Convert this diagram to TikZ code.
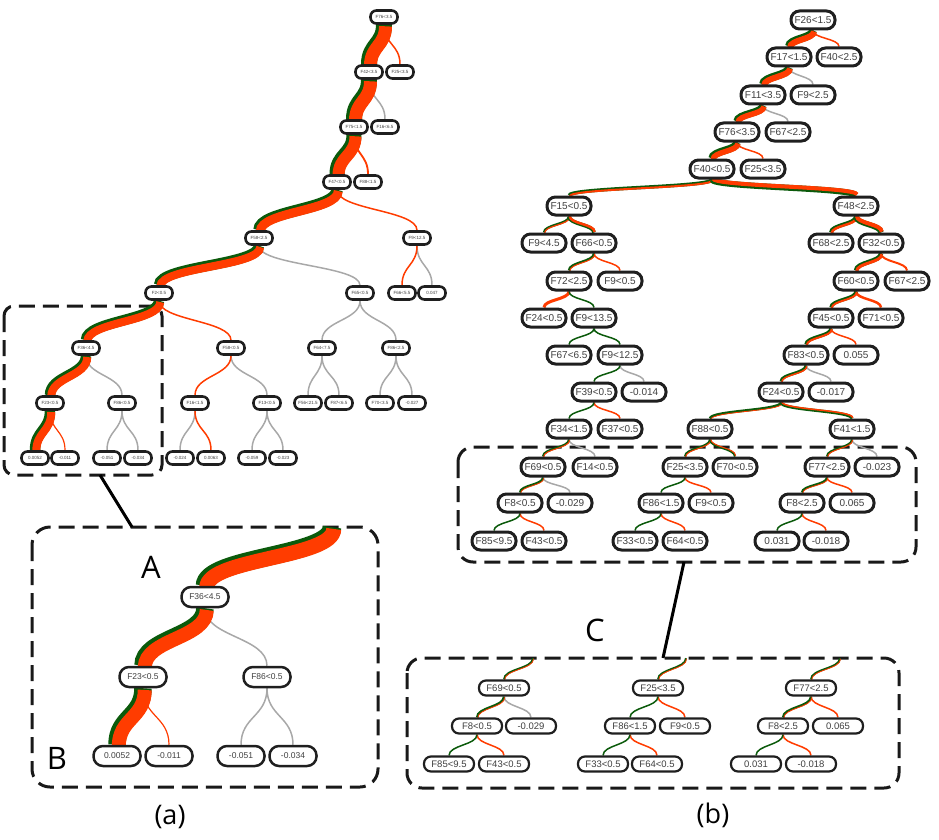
\documentclass[tikz,border=0pt]{standalone}
\usepackage{fontspec}
\setmainfont{Liberation Sans}
\newfontfamily\labelfont{Open Sans}
\usetikzlibrary{backgrounds,calc}
\definecolor{flowgreen}{HTML}{0B5A0B}
\definecolor{floworange}{HTML}{FF3C00}
\definecolor{flowgray}{HTML}{A8A8A8}

\begin{document}
\begin{tikzpicture}[x=1pt,y=1pt,
	tnode/.style={draw=black!88,fill=white,text=black!75,inner sep=0.5pt},
	abox/.style={tnode,minimum width=27pt,minimum height=13pt,line width=2.6pt,rounded corners=6pt,font=\fontsize{4.5}{5}\selectfont},
	bbox/.style={tnode,minimum width=44pt,minimum height=18pt,line width=3pt,rounded corners=8.5pt,font=\fontsize{10}{12}\selectfont},
	ibox/.style={tnode,minimum width=47pt,minimum height=20pt,line width=2.5pt,rounded corners=9.5pt,font=\fontsize{8.5}{10}\selectfont},
	cbox/.style={tnode,minimum width=50pt,minimum height=15pt,line width=2.2pt,rounded corners=7pt,font=\fontsize{9.5}{11}\selectfont},
	flowin/.style={inner sep=0pt,minimum size=0pt},
	flow/.style={to path={let \p8=(\tikztostart), \p9=(\tikztotarget) in
		.. controls (\x8,{0.5*(\y8+\y9)}) and (\x9,{0.5*(\y8+\y9)}) .. (\p9)}},
	gedge/.style={draw=flowgreen},
	oedge/.style={draw=floworange},
	nedge/.style={draw=flowgray,line width=1.5pt},
	zoombox/.style={draw=black!90,line width=3pt,dash pattern=on 16pt off 8pt},
	zoomline/.style={draw=black,line width=3pt},
	tag/.style={font=\labelfont\fontsize{31}{36}\selectfont},
	subtag/.style={font=\labelfont\fontsize{27}{32}\selectfont}]
	\useasboundingbox (0,0) rectangle (939,-840);
	\foreach \n/\x/\y/\l in {aF76/384/17/F76<3.5, aF42/369/72/F42<3.5, aF25/400/72/F25<3.5,
		aF75/354/127/F75<1.5, aF16/385/127/F16<6.5, aF47/337/182/F47<0.5, aF88/368/182/F88<1.5,
		aF58/259/238/F58<2.5, aF9/417/238/F9<12.5, aF2/159/293/F2<0.5, aF65/360/293/F65<0.5,
		aF66/402/293/F66<5.5, aL1/432/293/0.047, aF36/86/348/F36<4.5, aF58b/231/348/F58<0.5,
		aF64/322/348/F64<7.5, aF86/396/348/F86<2.5, aF23/50/403/F23<0.5, aF86b/122/403/F86<0.5,
		aF16b/195/403/F16<1.5, aF13/267/403/F13<0.5, aF56/308/403/F56<21.5, aF87/339/403/F87<6.5,
		aF70/380/403/F70<3.5, aL2/412/403/-0.027, aL3/35/458/0.0052, aL4/65/458/-0.011,
		aL5/107/458/-0.051, aL6/138/458/-0.034, aL7/180/458/-0.024, aL8/211/458/0.0063,
		aL9/252/458/-0.059, aL10/283/458/-0.023}
		\node[abox] (\n) at (\x,-\y) {\l};
	\foreach \n/\x/\y/\l in {iF36/205/597/F36<4.5, iF23/143/677/F23<0.5, iF86/267/677/F86<0.5,
		iL1/117/756/0.0052, iL2/169/756/-0.011, iL3/241/756/-0.051, iL4/293/756/-0.034}
		\node[ibox] (\n) at (\x,-\y) {\l};
	\foreach \n/\x/\y/\l in {bF26/813/20/F26<1.5, bF17/789/57/F17<1.5, bF40/839/57/F40<2.5,
		bF11/763/95/F11<3.5, bF9/813/95/F9<2.5, bF76/737/132/F76<3.5, bF67/788/132/F67<2.5,
		bF40b/712/169/F40<0.5, bF25/763/169/F25<3.5, bF15/569/206/F15<0.5, bF48/856/206/F48<2.5,
		bF9b/544/243/F9<4.5, bF66/594/243/F66<0.5, bF68/831/243/F68<2.5, bF32/881/243/F32<0.5,
		bF72/569/281/F72<2.5, bF9c/620/281/F9<0.5, bF60/856/281/F60<0.5, bF67b/907/281/F67<2.5,
		bF24/544/318/F24<0.5, bF9d/594/318/F9<13.5, bF45/831/318/F45<0.5, bF71/881/318/F71<0.5,
		bF67c/569/355/F67<6.5, bF9e/620/355/F9<12.5, bF83/806/355/F83<0.5, bL1/856/355/0.055,
		bF39/594/392/F39<0.5, bL2/644/392/-0.014, bF24b/781/392/F24<0.5, bL3/831/392/-0.017,
		bF34/569/429/F34<1.5, bF37/620/429/F37<0.5, bF88/710/429/F88<0.5, bF41/852/429/F41<1.5,
		bF69/543/467/F69<0.5, bF14/595/467/F14<0.5, bF25b/685/467/F25<3.5, bF70/735/467/F70<0.5,
		bF77/827/467/F77<2.5, bL4/877/467/-0.023, bF8/520/503/F8<0.5, bL5/570/503/-0.029,
		bF86/661/503/F86<1.5, bF9f/711/503/F9<0.5, bF8b/802/503/F8<2.5, bL6/852/503/0.065,
		bF85/494/541/F85<9.5, bF43/544/541/F43<0.5, bF33/635/541/F33<0.5, bF64/685/541/F64<0.5,
		bL7/777/541/0.031, bL8/826/541/-0.018}
		\node[bbox] (\n) at (\x,-\y) {\l};
	\foreach \n/\x/\y/\l in {cF69/504/688/F69<0.5, cF8/477/726/F8<0.5, cL1/531/726/-0.029,
		cF85/449/764/F85<9.5, cF43/504/764/F43<0.5, cF25/658/688/F25<3.5, cF86/630/726/F86<1.5,
		cF9/685/726/F9<0.5, cF33/603/764/F33<0.5, cF64/657/764/F64<0.5, cF77/811/688/F77<2.5,
		cF8b/783/726/F8<2.5, cL2/838/726/0.065, cL3/756/764/0.031, cL4/811/764/-0.018}
		\node[cbox] (\n) at (\x,-\y) {\l};
	\node[flowin] (ain) at (332,-527) {};
	\node[flowin] (cin1) at (533,-658) {};
	\node[flowin] (cin2) at (686,-658) {};
	\node[flowin] (cin3) at (840,-658) {};
	\coordinate (za) at (100,-475);
	\coordinate (zb) at (132,-527);
	\coordinate (zc) at (684,-562);
	\coordinate (zd) at (663,-658);
	\node[tag] (tagA) at (151,-567) {A};
	\node[tag] (tagB) at (57,-758) {B};
	\node[tag] (tagC) at (595,-630) {C};
	\node[subtag] (taga) at (170,-817) {(a)};
	\node[subtag] (tagb) at (713,-815) {(b)};
	\begin{pgfonlayer}{background}
		\draw[zoombox,rounded corners=10pt] (4,-306) rectangle (162,-475);
		\draw[zoombox,rounded corners=18pt] (32,-527) rectangle (378,-787);
		\draw[zoombox,rounded corners=15pt] (458,-447) rectangle (916,-562);
		\draw[zoombox,rounded corners=15pt] (407,-658) rectangle (899,-788);
		\draw[zoomline] (za) -- (zb);
		\draw[zoomline] (zc) -- (zd);
		\foreach \a/\b in {aF42/aF16, aF58/aF65, aF9/aL1, aF65/aF64, aF65/aF86, aF36/aF86b,
			aF58b/aF13, aF64/aF56, aF64/aF87, aF86/aF70, aF86/aL2, aF86b/aL5, aF86b/aL6,
			aF16b/aL7, aF13/aL9, aF13/aL10, iF36/iF86, iF86/iL3, iF86/iL4,
			bF17/bF9, bF11/bF67, bF9e/bL2, bF83/bL3, bF34/bF14, bF69/bL5, bF41/bL4, cF69/cL1}
			\draw[nedge] (\a.south) to[flow] (\b.north);
		\foreach \a/\b/\w in {aF76/aF25/1.5pt, aF75/aF88/1.8pt, aF47/aF9/1.5pt, aF9/aF66/1.5pt,
			aF2/aF58b/1.5pt, aF58b/aF16b/1.5pt, aF16b/aL8/1.5pt, aF23/aL4/1.2pt, iF23/iL2/1.2pt,
			bF26/bF40/1.5pt, bF76/bF25/1.5pt, bF66/bF9c/1.5pt, bF72/bF24/3pt, bF32/bF67b/2pt,
			bF60/bF71/2.5pt, bF45/bL1/1.5pt, bF39/bF37/1.5pt, bF8/bF43/1.5pt, bF25b/bF9f/1.5pt,
			bF86/bF64/1.5pt, bF77/bL6/1.5pt, bF8b/bL8/1.5pt,
			cF8/cF43/1.5pt, cF25/cF9/1.5pt, cF86/cF64/1.5pt, cF77/cL2/1.5pt, cF8b/cL4/1.5pt}
			\draw[oedge,line width=\w] (\a.south) to[flow] (\b.north);
		\foreach \a/\b/\w in {bF72/bF9d/1.5pt, bF9d/bF67c/1.5pt, bF9d/bF9e/1.5pt, bF9e/bF39/1.5pt,
			bF39/bF34/1.5pt, bF8/bF85/1.5pt, bF25b/bF86/1.5pt, bF86/bF33/1.5pt, bF8b/bL7/1.5pt,
			cF8/cF85/1.5pt, cF25/cF86/1.5pt, cF86/cF33/1.5pt, cF8b/cL3/1.5pt}
			\draw[gedge,line width=\w] (\a.south) to[flow] (\b.north);
		\foreach \a/\b/\g/\o in {aF76/aF42/3pt/13pt, aF42/aF75/3pt/13pt, aF75/aF47/3pt/12pt,
			aF47/aF58/2.5pt/9pt, aF58/aF2/2.5pt/8pt, aF2/aF36/2.5pt/8pt, aF36/aF23/2.5pt/8pt, aF23/aL3/2.5pt/8pt,
			ain/iF36/3.5pt/15pt, iF36/iF23/3.5pt/14pt, iF23/iL1/3.5pt/14pt,
			bF26/bF17/2pt/6pt, bF17/bF11/2pt/6pt, bF11/bF76/2pt/5.5pt, bF76/bF40b/2pt/5.5pt,
			bF40b/bF15/1.5pt/2pt, bF40b/bF48/2pt/4pt, bF15/bF9b/1.2pt/1.2pt, bF15/bF66/1.2pt/2.5pt,
			bF66/bF72/1.5pt/1pt, bF48/bF68/1.5pt/2.5pt, bF48/bF32/1.5pt/4pt, bF32/bF60/1.5pt/3pt,
			bF60/bF45/1.5pt/2pt, bF45/bF83/1.5pt/2pt, bF83/bF24b/1.5pt/1.5pt, bF24b/bF88/1.8pt/0.8pt,
			bF24b/bF41/1.5pt/1.5pt, bF34/bF69/1.2pt/1pt, bF69/bF8/1.5pt/0.8pt, bF88/bF25b/1.2pt/1pt,
			bF88/bF70/1.2pt/1pt, bF41/bF77/1.2pt/1pt, bF77/bF8b/1.5pt/0.8pt,
			cin1/cF69/1.2pt/0.8pt, cF69/cF8/1.5pt/0.8pt, cin2/cF25/1.2pt/0.8pt, cin3/cF77/1.2pt/0.8pt,
			cF77/cF8b/1.5pt/0.8pt}{
			\draw[gedge,line width=\g+\o] (\a.south) to[flow] (\b.north);
			\draw[oedge,line width=\o] let \p1=(\a.south), \p2=(\b.north), \n1={sign(\x2-\x1)} in
				([shift={(0.5*\g,\n1*0.5*\g)}]\p1) to[flow] ([shift={(0.5*\g,\n1*0.5*\g)}]\p2);
		}
	\end{pgfonlayer}
\end{tikzpicture}
\end{document}
